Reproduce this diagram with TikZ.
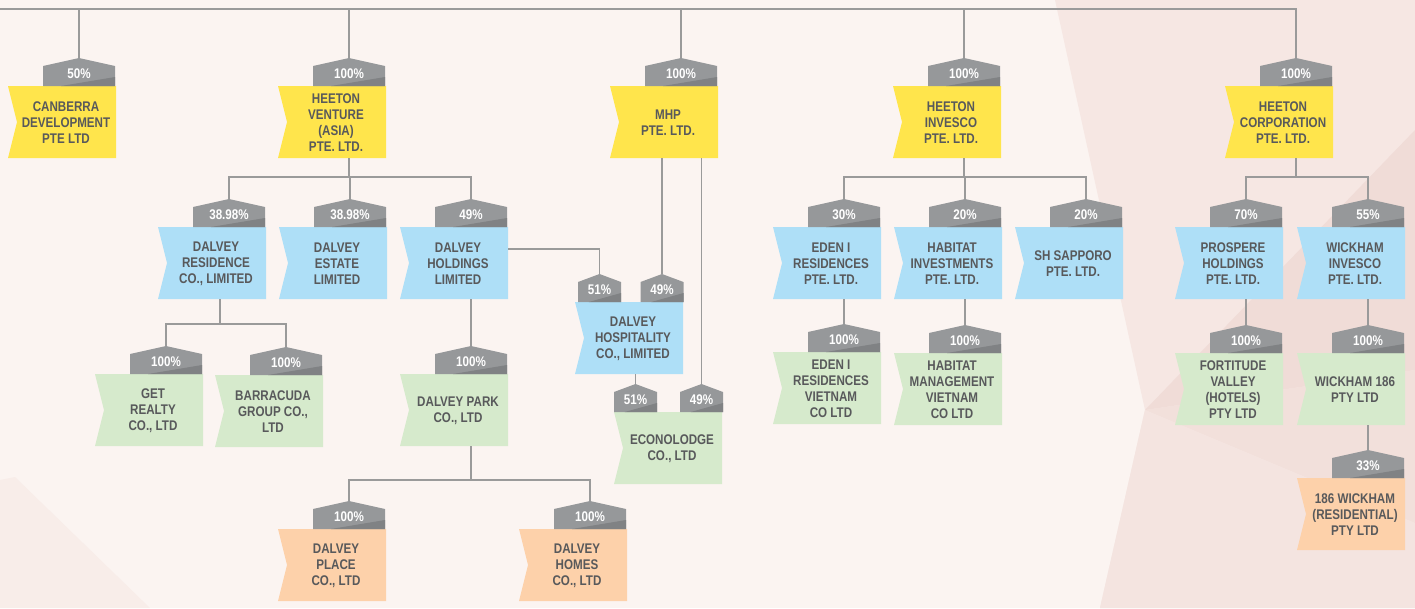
\documentclass[tikz,border=0pt]{standalone}
\usepackage{fontspec}
\setmainfont{Liberation Sans}[FakeStretch=0.83]
\usetikzlibrary{calc}

\definecolor{bgpink}{HTML}{FBF4F1}
\definecolor{facetA}{HTML}{F6E7E3}
\definecolor{facetB}{HTML}{F0DCD7}
\definecolor{facetC}{HTML}{F2E0DB}
\definecolor{facetD}{HTML}{F4E4E0}
\definecolor{facetE}{HTML}{F8EDE9}
\definecolor{yellowbox}{HTML}{FFE54C}
\definecolor{bluebox}{HTML}{AEDFF7}
\definecolor{greenbox}{HTML}{D6EACC}
\definecolor{orangebox}{HTML}{FDD1AA}
\definecolor{taggrey}{HTML}{96989A}
\definecolor{tagdark}{HTML}{808284}
\definecolor{inkgrey}{HTML}{58595B}
\definecolor{linegrey}{HTML}{9A9A9A}

\tikzset{
    firmtext/.style={text=inkgrey, align=center, inner sep=0pt,
        font=\fontsize{14}{16}\selectfont\bfseries},
    pcttext/.style={text=white, inner sep=0pt,
        font=\fontsize{14}{15}\selectfont\bfseries},
    link/.style={draw=linegrey, line width=1.3pt}
}

% share tag: name, centre x, bottom y, width, text
\newcommand{\share}[5]{
    \fill[taggrey] ({#2-#4/2},#3) -- ++(0,-20) -- (#2,{#3-28}) -- ({#2+#4/2},{#3-20}) -- ++(0,20) -- cycle;
    \fill[tagdark] ({#2-#4/4},#3) -- ({#2+#4/2},{#3-9}) -- ({#2+#4/2},#3) -- cycle;
    \node[pcttext] (#1) at (#2,{#3-12}) {#5};
    \coordinate (#1-t) at (#2,{#3-28});
}
% flag box: name, left x, top y, colour, text
\newcommand{\flag}[5]{
    \fill[#4] (#2,#3) -- ++(108,0) -- ++(0,72) -- ++(-108,0) -- ++(9,-36) -- cycle;
    \node[firmtext] (#1) at ({#2+58},{#3+37}) {#5};
    \coordinate (#1-b) at ({#2+71},{#3+72});
}
% flag box with one share tag on top
\newcommand{\firm}[6]{
    \flag{#1}{#2}{#3}{#4}{#6}
    \share{#1}{#2+71}{#3}{72}{#5}
}

\begin{document}
\begin{tikzpicture}[x=1pt, y=-1pt]
    \useasboundingbox (0,0) rectangle (1415,608);
    \fill[bgpink] (0,0) rectangle (1415,608);
    % background facets
    \fill[facetA] (1055,0) -- (1415,0) -- (1415,608) -- (1100,608) -- (1145,410) -- cycle;
    \fill[facetB] (1145,410) -- (1415,130) -- (1415,370) -- cycle;
    \fill[facetC] (1145,410) -- (1415,370) -- (1415,523) -- cycle;
    \fill[facetD] (1145,410) -- (1415,523) -- (1415,608) -- (1100,608) -- cycle;
    \fill[facetE] (0,480) -- (15,477) -- (150,608) -- (0,608) -- cycle;

    % level 1
    \firm{canberra}{8}{86}{yellowbox}{50\%}{CANBERRA\\DEVELOPMENT\\PTE LTD}
    \firm{venture}{278}{86}{yellowbox}{100\%}{HEETON\\VENTURE\\(ASIA)\\PTE. LTD.}
    \firm{mhp}{610}{86}{yellowbox}{100\%}{MHP\\PTE. LTD.}
    \firm{invesco}{893}{86}{yellowbox}{100\%}{HEETON\\INVESCO\\PTE. LTD.}
    \firm{corp}{1225}{86}{yellowbox}{100\%}{HEETON\\CORPORATION\\PTE. LTD.}

    % level 2
    \firm{residence}{158}{227}{bluebox}{38.98\%}{DALVEY\\RESIDENCE\\CO., LIMITED}
    \firm{estate}{279}{227}{bluebox}{38.98\%}{DALVEY\\ESTATE\\LIMITED}
    \firm{holdings}{400}{227}{bluebox}{49\%}{DALVEY\\HOLDINGS\\LIMITED}
    \firm{eden}{773}{227}{bluebox}{30\%}{EDEN I\\RESIDENCES\\PTE. LTD.}
    \firm{habitat}{894}{227}{bluebox}{20\%}{HABITAT\\INVESTMENTS\\PTE. LTD.}
    \firm{sapporo}{1015}{227}{bluebox}{20\%}{SH SAPPORO\\PTE. LTD.}
    \firm{prospere}{1175}{227}{bluebox}{70\%}{PROSPERE\\HOLDINGS\\PTE. LTD.}
    \firm{wickinv}{1297}{227}{bluebox}{55\%}{WICKHAM\\INVESCO\\PTE. LTD.}

    \flag{hosp}{575}{302}{bluebox}{DALVEY\\HOSPITALITY\\CO., LIMITED}
    \share{hosp51}{599.5}{302}{43}{51\%}
    \share{hosp49}{662}{302}{43}{49\%}

    % level 3
    \firm{getrealty}{95}{374}{greenbox}{100\%}{GET\\REALTY\\CO., LTD}
    \firm{barracuda}{215}{375}{greenbox}{100\%}{BARRACUDA\\GROUP CO.,\\LTD}
    \firm{park}{400}{374}{greenbox}{100\%}{DALVEY PARK\\CO., LTD}
    \firm{edenvn}{773}{352}{greenbox}{100\%}{EDEN I\\RESIDENCES\\VIETNAM\\CO LTD}
    \firm{habmgmt}{894}{353}{greenbox}{100\%}{HABITAT\\MANAGEMENT\\VIETNAM\\CO LTD}
    \firm{fortitude}{1175}{353}{greenbox}{100\%}{FORTITUDE\\VALLEY\\(HOTELS)\\PTY LTD}
    \firm{wick186}{1297}{353}{greenbox}{100\%}{WICKHAM 186\\PTY LTD}

    \flag{econo}{614}{412}{greenbox}{ECONOLODGE\\CO., LTD}
    \share{econ51}{635.5}{412}{43}{51\%}
    \share{econ49}{701.5}{412}{43}{49\%}

    % level 4
    \firm{place}{278}{529}{orangebox}{100\%}{DALVEY\\PLACE\\CO., LTD}
    \firm{homes}{519}{529}{orangebox}{100\%}{DALVEY\\HOMES\\CO., LTD}
    \firm{resid186}{1297}{478}{orangebox}{33\%}{186 WICKHAM\\(RESIDENTIAL)\\PTY LTD}

    % connectors
    \coordinate (root) at (0,9);
    \draw[link] (root) -| (corp-t);
    \draw[link] (canberra-t) -- (canberra-t |- root);
    \draw[link] (venture-t) -- (venture-t |- root);
    \draw[link] (mhp-t) -- (mhp-t |- root);
    \draw[link] (invesco-t) -- (invesco-t |- root);

    \coordinate (vbus) at (349,177);
    \draw[link] (venture-b) -- (vbus);
    \draw[link] (residence-t) |- (vbus) -| (holdings-t);
    \draw[link] (estate-t) -- (estate-t |- vbus);

    \coordinate (residence-b) at (220,299);
    \coordinate (rbus) at (220,324);
    \draw[link] (residence-b) -- (rbus);
    \draw[link] (getrealty-t) |- (rbus) -| (barracuda-t);

    \draw[link] (holdings-b) -- (park-t);
    \coordinate (holdings-r) at (508,249);
    \draw[link] (holdings-r) -| (hosp51-t);
    \draw[link] (hosp49-t) -- (hosp49-t |- mhp-b);
    \draw[link] (econ49-t) -- (econ49-t |- mhp-b);
    \coordinate (hosp-b) at (635.5,374);
    \draw[link] (hosp-b) -- (econ51-t);

    \coordinate (pbus) at (471,480);
    \draw[link] (park-b) -- (pbus);
    \draw[link] (place-t) |- (pbus) -| (homes-t);

    \coordinate (ibus) at (964,177);
    \draw[link] (invesco-b) -- (ibus);
    \draw[link] (eden-t) |- (ibus) -| (sapporo-t);
    \draw[link] (habitat-t) -- (habitat-t |- ibus);
    \draw[link] (eden-b) -- (edenvn-t);
    \draw[link] (habitat-b) -- (habmgmt-t);

    \coordinate (cbus) at (1296,177);
    \draw[link] (corp-b) -- (cbus);
    \draw[link] (prospere-t) |- (cbus) -| (wickinv-t);
    \draw[link] (prospere-b) -- (fortitude-t);
    \draw[link] (wickinv-b) -- (wick186-t);
    \draw[link] (wick186-b) -- (resid186-t);
\end{tikzpicture}
\end{document}
